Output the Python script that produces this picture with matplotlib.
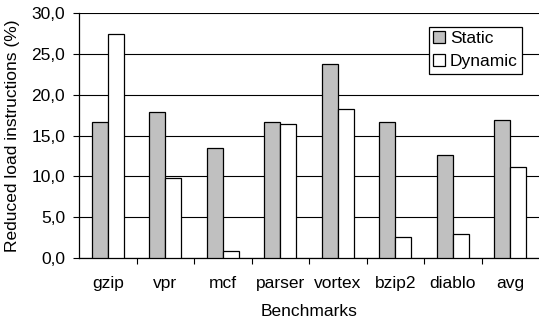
import numpy as np
import matplotlib
matplotlib.use('Agg')
from matplotlib import pyplot as plt
from matplotlib.ticker import FuncFormatter, FixedLocator

benchmarks = ['gzip', 'vpr', 'mcf', 'parser', 'vortex', 'bzip2', 'diablo', 'avg']
static_vals = [16.7, 17.9, 13.5, 16.7, 23.7, 16.6, 12.6, 16.85]
dynamic_vals = [27.4, 9.8, 0.8, 16.4, 18.2, 2.6, 3.0, 11.2]
y_ticks = [0, 5, 10, 15, 20, 25, 30]

plt.rcParams['font.family'] = ['Liberation Sans', 'DejaVu Sans']
plt.rcParams['font.size'] = 12.5

fig = plt.figure(figsize=(5.39, 3.24), dpi=100)
ax = fig.add_axes([79 / 539, 1 - 258 / 324, 1 - 79 / 539, (258 - 13) / 324])

x = np.arange(len(benchmarks))
w = 0.28
ax.bar(x - w / 2, static_vals, w, color='#c0c0c0', edgecolor='black', linewidth=0.9,
       label='Static', zorder=3)
ax.bar(x + w / 2, dynamic_vals, w, color='white', edgecolor='black', linewidth=0.9,
       label='Dynamic', zorder=3)

ax.set_xlim(-0.5, len(benchmarks) - 0.5)
ax.set_ylim(0, 30)
ax.set_yticks(y_ticks)
ax.yaxis.set_major_formatter(FuncFormatter(lambda v, p: f'{v:.1f}'.replace('.', ',')))
ax.yaxis.grid(True, color='black', linewidth=0.8, zorder=0)
ax.set_axisbelow(True)

ax.set_xticks(x)
ax.set_xticklabels(benchmarks)
ax.xaxis.set_minor_locator(FixedLocator(np.arange(0.5, len(benchmarks) - 0.5, 1)))
ax.tick_params(axis='x', which='major', length=0, pad=13)
ax.tick_params(axis='x', which='minor', length=4, width=0.8, direction='out')
ax.tick_params(axis='y', length=4, width=0.8, direction='out', pad=6)

for s in ['top', 'right']:
    ax.spines[s].set_visible(False)
for s in ['left', 'bottom']:
    ax.spines[s].set_linewidth(0.9)

ax.set_xlabel('Benchmarks', labelpad=9)
ax.set_ylabel('Reduced load instructions (%)', labelpad=8)

leg = ax.legend(loc='upper left', bbox_to_anchor=(429 / 539, 1 - 27 / 324),
                bbox_transform=fig.transFigure, frameon=True, fancybox=False,
                handlelength=0.7, handleheight=0.7, handletextpad=0.25,
                labelspacing=0.45, borderpad=0.25, borderaxespad=0)
leg.get_frame().set_edgecolor('black')
leg.get_frame().set_linewidth(0.9)
leg.get_frame().set_alpha(1)

fig.savefig('out.png', dpi=100)
